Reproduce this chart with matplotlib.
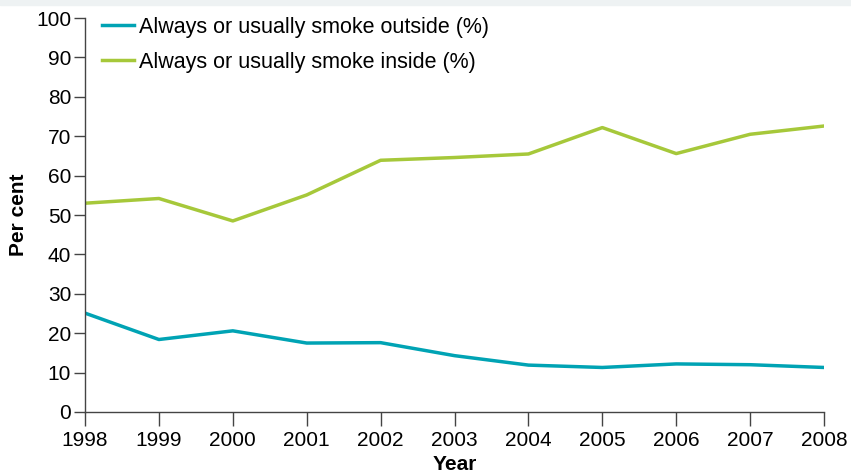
import matplotlib
matplotlib.use('Agg')
import matplotlib.pyplot as plt
from matplotlib.patches import Rectangle

years = [1998, 1999, 2000, 2001, 2002, 2003, 2004, 2005, 2006, 2007, 2008]
outside = [25.1, 18.4, 20.6, 17.5, 17.6, 14.3, 11.9, 11.3, 12.2, 12.0, 11.3]
inside = [53.0, 54.2, 48.5, 55.1, 63.9, 64.6, 65.5, 72.2, 65.6, 70.5, 72.6]

plt.rcParams['font.family'] = ['Liberation Sans', 'DejaVu Sans']

fig = plt.figure(figsize=(8.51, 4.76), dpi=100)
fig.patches.append(Rectangle((0, 0.99), 1, 0.01, transform=fig.transFigure,
                             color='#eef2f3', zorder=0))
ax = fig.add_axes([0.0999, 0.1345, 0.8684, 0.8275])

ax.plot(years, outside, color='#00a3b4', lw=2.5, label='Always or usually smoke outside (%)')
ax.plot(years, inside, color='#a6c83a', lw=2.5, label='Always or usually smoke inside (%)')

ax.set_xlim(1998, 2008)
ax.set_ylim(0, 100)
ax.set_xticks(years)
ax.set_yticks(range(0, 101, 10))
for s in ['top', 'right']:
    ax.spines[s].set_visible(False)
for s in ['left', 'bottom']:
    ax.spines[s].set_color('#444444')
    ax.spines[s].set_linewidth(1)
ax.tick_params(axis='y', length=8, width=1, color='#444444', labelsize=15, pad=2)
ax.tick_params(axis='x', length=10, width=1, color='#444444', labelsize=15, pad=4)

ax.set_xlabel('Year', fontsize=15, fontweight='bold', labelpad=3)
ax.set_ylabel('Per cent', fontsize=15, fontweight='bold', labelpad=6)

ax.legend(loc='upper left', frameon=False, fontsize=15.5, handlelength=1.45,
          handletextpad=0.25, labelspacing=0.65, borderaxespad=0,
          bbox_to_anchor=(0.012, 1.025))

fig.savefig('out.png', dpi=100)
